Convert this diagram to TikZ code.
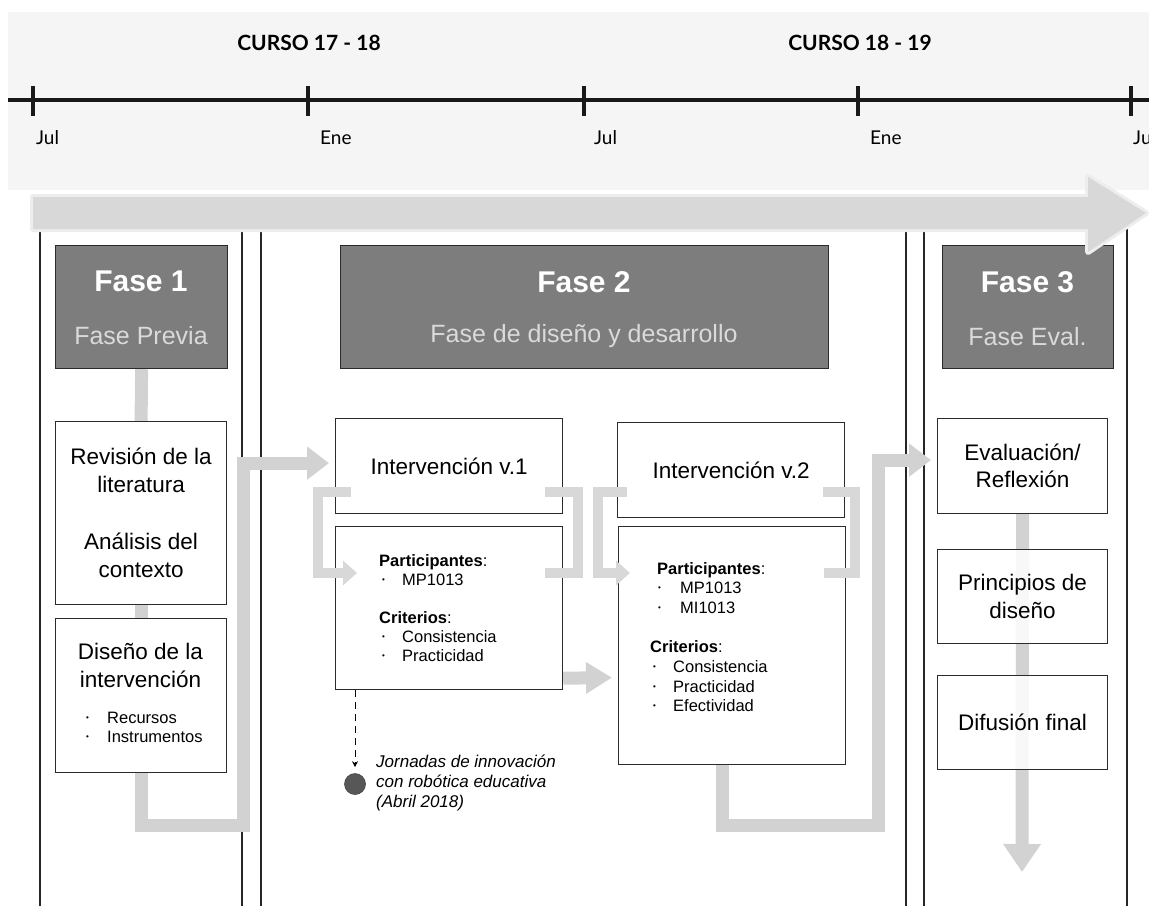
\documentclass[tikz,border=0pt]{standalone}
\usepackage{fontspec}
\setmainfont{Liberation Sans}
\newfontfamily\latof{Lato}
\usetikzlibrary{arrows.meta,calc}
\definecolor{phasegray}{HTML}{7D7D7D}
\definecolor{conn}{HTML}{D2D2D2}
\definecolor{brk}{HTML}{D8D8D8}
\definecolor{bord}{HTML}{2B2B2B}
\definecolor{band}{HTML}{F5F5F5}
\definecolor{bigar}{HTML}{D8D8D8}
\definecolor{subw}{HTML}{DADADA}
\definecolor{dotc}{HTML}{575757}
\newcommand\fsz[2]{\fontsize{#1}{#2}\selectfont}
\newcommand\bl[2]{\makebox[#2][l]{\hspace*{#1}\raisebox{0.28ex}{\fsz{8}{8}\textbullet}}}
\pgfdeclarelayer{bgzero}
\pgfdeclarelayer{bgone}
\pgfdeclarelayer{fg}
\pgfsetlayers{bgzero,bgone,main,fg}
\begin{document}
\begin{tikzpicture}[x=1pt,y=-1pt,
  colline/.style={line width=1.2pt,draw=black!85},
  phasebox/.style={draw=bord,line width=1.2pt,fill=phasegray,inner sep=0pt,anchor=north west},
  wbox/.style={draw=bord,line width=1.2pt,fill=white,fill opacity=0.85,text opacity=1,inner sep=0pt,anchor=north west,align=center,font=\fsz{22.5}{28}},
  ptitle/.style={text=white,font=\bfseries\fsz{30}{30},inner sep=0pt},
  psub/.style={text=subw,font=\fsz{25}{25},inner sep=0pt},
  ln/.style={anchor=west,inner sep=0pt,text height=12pt,text depth=3.5pt,font=\fsz{16.5}{19.5}},
  gar/.style={draw=conn,line width=13pt,-{Triangle[width=32pt,length=22pt]}},
  gln/.style={draw=conn,line width=13pt},
  gbr/.style={draw=brk,line width=10pt},
  tl/.style={line width=3.5pt,draw=black!90},
  mon/.style={anchor=west,inner sep=0pt,font=\latof\fsz{19}{19}},
  curso/.style={inner sep=0pt,font=\latof\bfseries\fsz{21}{21}}
]
\useasboundingbox (0,0) rectangle (1149,906);

% ---------- background, timeline, column lines ----------
\begin{pgfonlayer}{bgzero}
\fill[band] (8,12) rectangle (1149,190);
\draw[tl] (8,100) -- (1149,100);
\foreach \x in {33,308,584,858,1131} \draw[tl] (\x,86) -- (\x,116);
\foreach \x in {40,242,261,906,924,1127} \draw[colline] (\x,226) -- (\x,906);
\end{pgfonlayer}

\node[mon] (m1) at (36,138) {Jul};
\node[mon] (m2) at (320,138) {Ene};
\node[mon] (m3) at (594,138) {Jul};
\node[mon] (m4) at (870,138) {Ene};
\node[mon] (m5) at (1133,138) {Jul};
\node[curso] (c1) at (309,43) {CURSO 17 - 18};
\node[curso] (c2) at (860,43) {CURSO 18 - 19};

% ---------- phase headers ----------
\node[phasebox,minimum width=172pt,minimum height=123pt] (f1) at (55,245) {};
\node[phasebox,minimum width=488pt,minimum height=123pt] (f2) at (340,245) {};
\node[phasebox,minimum width=171pt,minimum height=123pt] (f3) at (942,245) {};
\node[ptitle] (f1a) at (141,281) {Fase 1};
\node[psub] (f1b) at (141,336) {Fase Previa};
\node[ptitle] (f2a) at (584,282) {Fase 2};
\node[psub] (f2b) at (584,336) {Fase de diseño y desarrollo};
\node[ptitle] (f3a) at (1027.5,282) {Fase 3};
\node[psub] (f3b) at (1027.5,337) {Fase Eval.};

% ---------- Fase 1 boxes ----------
\node[wbox,minimum width=171pt,minimum height=183pt] (rev) at (55,421) {Revisión de la\\literatura\\[29pt]Análisis del\\contexto};
\node[wbox,minimum width=171pt,minimum height=154pt] (dis) at (55,618) {};
\node[inner sep=0pt,align=center,font=\fsz{22.5}{28}] (dist) at (140.5,665) {Diseño de la\\intervención};
\node[ln] (dis1) at (86,719) {\bl{0pt}{21pt}Recursos};
\node[ln] (dis2) at (86,738) {\bl{0pt}{21pt}Instrumentos};

% ---------- Fase 2 boxes ----------
\node[wbox,minimum width=227pt,minimum height=95pt] (v1) at (335,418) {Intervención v.1};
\node[wbox,minimum width=227pt,minimum height=163pt] (p1) at (335,526) {};
\node[ln] (p1a) at (379,562) {\textbf{Participantes}:};
\node[ln] (p1b) at (379,581) {\bl{3pt}{23pt}MP1013};
\node[ln] (p1c) at (379,619) {\textbf{Criterios}:};
\node[ln] (p1d) at (379,638) {\bl{3pt}{23pt}Consistencia};
\node[ln] (p1e) at (379,657) {\bl{3pt}{23pt}Practicidad};

\node[wbox,minimum width=227pt,minimum height=95pt] (v2) at (617,422) {Intervención v.2};
\node[wbox,minimum width=227pt,minimum height=238pt] (p2) at (618,526) {};
\node[ln] (p2a) at (657,570) {\textbf{Participantes}:};
\node[ln] (p2b) at (657,589) {\bl{1pt}{23pt}MP1013};
\node[ln] (p2c) at (657,609) {\bl{1pt}{23pt}MI1013};
\node[ln] (p2d) at (650,648) {\textbf{Criterios}:};
\node[ln] (p2e) at (650,668) {\bl{3pt}{23pt}Consistencia};
\node[ln] (p2f) at (650,688) {\bl{3pt}{23pt}Practicidad};
\node[ln] (p2g) at (650,707) {\bl{3pt}{23pt}Efectividad};

\node[circle,fill=dotc,draw=dotc!80!black,line width=0.6pt,minimum size=21pt,inner sep=0pt] (dot) at (355,784) {};
\node[ln,font=\itshape\fsz{17}{20}] (j1) at (376,763) {Jornadas de innovación};
\node[ln,font=\itshape\fsz{17}{20}] (j2) at (376,783) {con robótica educativa};
\node[ln,font=\itshape\fsz{17}{20}] (j3) at (376,803) {(Abril 2018)};
\draw[dashed,dash pattern=on 7pt off 5pt,line width=1pt,-{Stealth[length=6pt,width=6pt]},shorten >=6pt] (p1.south -| dot) -- (dot.north);

% ---------- Fase 3 boxes ----------
\node[wbox,minimum width=170pt,minimum height=95pt,font=\fsz{22.5}{27}] (eva) at (937,418) {Evaluación/\\Reflexión};
\node[wbox,minimum width=170pt,minimum height=94pt] (pri) at (937,549) {Principios de\\diseño};
\node[wbox,minimum width=170pt,minimum height=94pt] (dif) at (937,675) {Difusión final};

% ---------- gray connectors (behind boxes) ----------
\coordinate (k1) at (243,825);
\coordinate (k2) at (878,825);
\coordinate (k3) at (1022,872);
\begin{pgfonlayer}{bgone}
\draw[gln] (f1.south) -- (rev.north);
\draw[gln] (rev.south) -- (dis.north);
\draw[gar] (dis.south) |- (k1) |- ($(v1.west)+(-6,-3)$);
\draw[gar,-{Triangle[width=30pt,length=26pt]}] ($(p1.south east)+(0,-12)$) -- ($(p2.west)+(-6,32)$);
\draw[gar] ([xshift=-10pt]p2.south) |- (k2) |- ($(eva.west)+(-6,-6)$);
\draw[gar,-{Triangle[width=36pt,length=28pt]}] (eva.south) -- (k3);
\end{pgfonlayer}

% ---------- brackets and big arrow (in front) ----------
\coordinate (b1t) at (318,492); \coordinate (b1b) at (318,573);
\coordinate (b2t) at (578,492); \coordinate (b2b) at (578,573);
\coordinate (b3t) at (598,492); \coordinate (b3b) at (598,573);
\coordinate (b4t) at (855,492); \coordinate (b4b) at (855,573);
\begin{pgfonlayer}{fg}
\draw[gbr,-{Triangle[width=24pt,length=14pt]}] ($(v1.west|-b1t)+(16,0)$) -- (b1t) -- (b1b) -- ($(p1.west|-b1b)+(22,0)$);
\draw[gbr] ($(v1.east|-b2t)+(-18,0)$) -- (b2t) -- (b2b) -- ($(p1.east|-b2b)+(-18,0)$);
\draw[gbr,-{Triangle[width=24pt,length=14pt]}] ($(v2.west|-b3t)+(10,0)$) -- (b3t) -- (b3b) -- ($(p2.west|-b3b)+(12,0)$);
\draw[gbr] ($(v2.east|-b4t)+(-22,0)$) -- (b4t) -- (b4b) -- ($(p2.east|-b4b)+(-22,0)$);
\draw[bigar!45!white,line width=6pt,line join=round] (33,197) -- (1088,197) -- (1088,177) -- (1146,213) -- (1088,252) -- (1088,229) -- (33,229) -- cycle;
\fill[bigar] (33,197) -- (1088,197) -- (1088,177) -- (1146,213) -- (1088,252) -- (1088,229) -- (33,229) -- cycle;
\end{pgfonlayer}
\end{tikzpicture}
\end{document}
